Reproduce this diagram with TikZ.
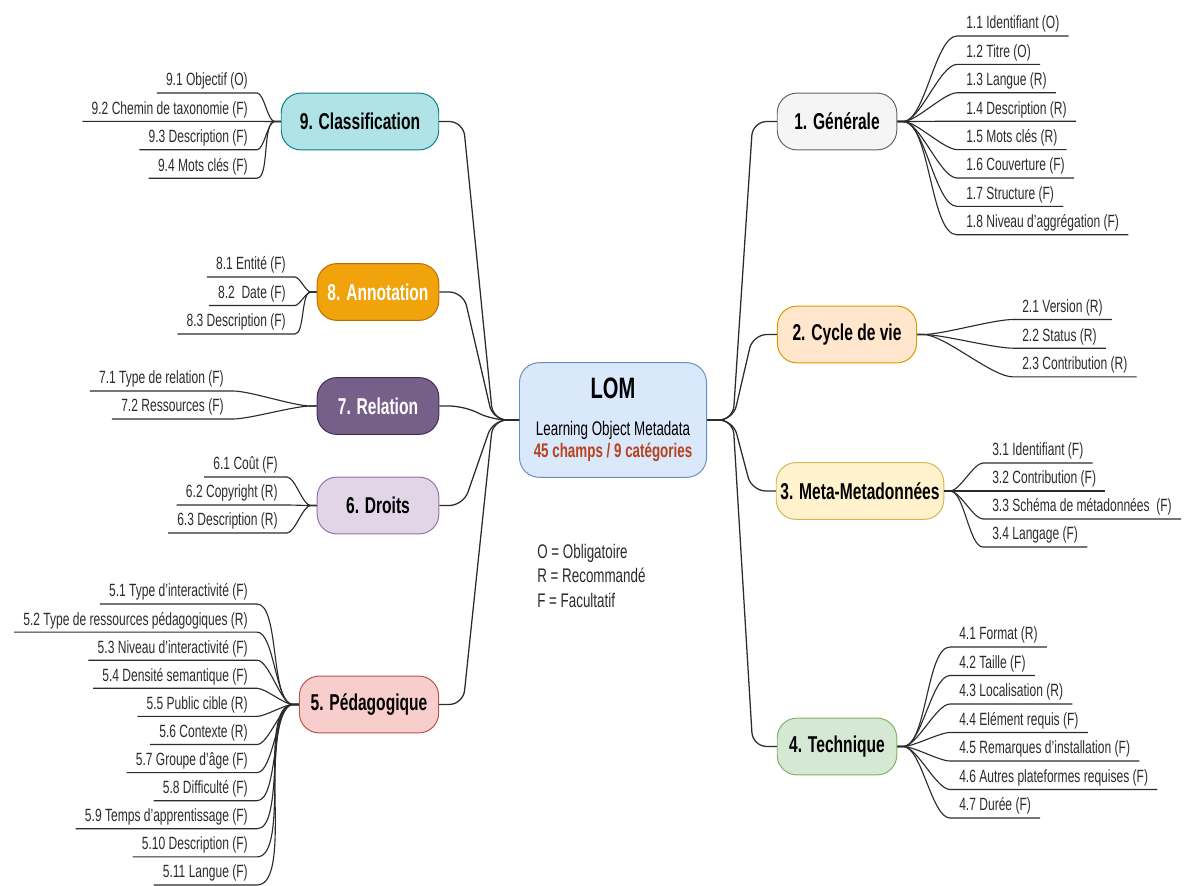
\documentclass[tikz,border=0pt]{standalone}
\usepackage{fontspec}
\setmainfont[FakeStretch=0.68]{Liberation Sans}
\usetikzlibrary{calc}
\definecolor{lomfill}{HTML}{DAE8FC}\definecolor{lomline}{HTML}{6C8EBF}
\definecolor{gfill}{HTML}{F5F5F5}\definecolor{gline}{HTML}{666666}
\definecolor{cfill}{HTML}{FFE6CC}\definecolor{cline}{HTML}{D79B00}
\definecolor{mfill}{HTML}{FFF2CC}\definecolor{mline}{HTML}{D6B656}
\definecolor{tfill}{HTML}{D5E8D4}\definecolor{tline}{HTML}{82B366}
\definecolor{pfill}{HTML}{F8CECC}\definecolor{pline}{HTML}{B85450}
\definecolor{dfill}{HTML}{E1D5E7}\definecolor{dline}{HTML}{9673A6}
\definecolor{rfill}{HTML}{76608A}\definecolor{rline}{HTML}{432D57}
\definecolor{afill}{HTML}{F0A30A}\definecolor{aline}{HTML}{BD7000}
\definecolor{kfill}{HTML}{B0E3E6}\definecolor{kline}{HTML}{0E8088}
\definecolor{champs}{HTML}{B9421D}
\definecolor{ink}{HTML}{2B2B2B}
\begin{document}
\begin{tikzpicture}[x=0.025cm,y=-0.025cm,
  cat/.style={draw, rounded corners=14pt, minimum height=40.4pt, inner xsep=3pt, line width=0.7pt,
    font=\fontsize{16.3}{19}\selectfont\bfseries},
  leafl/.style={anchor=south east, inner xsep=6.4pt, inner ysep=2.2pt, text height=9.4pt, text depth=2.6pt,
    text=ink, font=\fontsize{12.6}{15}\selectfont},
  leafr/.style={leafl, anchor=south west},
  branch/.style={draw=ink, line width=0.9pt, rounded corners=10pt},
  twig/.style={draw=ink, line width=0.8pt, looseness=0.55}]
\useasboundingbox (0,0) rectangle (1184,886);

% centre
\node[draw=lomline, fill=lomfill, line width=0.7pt, rounded corners=14pt, minimum width=133pt, minimum height=81.5pt,
  align=center, font=\fontsize{14}{16}\selectfont] (lom) at (613,420)
  {{\fontsize{21}{24}\selectfont\bfseries LOM}\\[10pt]Learning Object Metadata\\
   {\bfseries\color{champs}45 champs / 9 catégories}};

% categories
\node[cat, fill=kfill, draw=kline, minimum width=112pt] (c9) at (360,121.5) {9. Classification};
\node[cat, fill=afill, draw=aline, text=white, minimum width=86.5pt] (c8) at (378,292) {8. Annotation};
\node[cat, fill=rfill, draw=rline, text=white, minimum width=86.5pt] (c7) at (378,406) {7. Relation};
\node[cat, fill=dfill, draw=dline, minimum width=86.5pt] (c6) at (378,505.5) {6. Droits};
\node[cat, fill=pfill, draw=pline, minimum width=99pt] (c5) at (369,704.5) {5. Pédagogique};
\node[cat, fill=gfill, draw=gline, minimum width=85pt] (c1) at (837,121.5) {1. Générale};
\node[cat, fill=cfill, draw=cline, minimum width=99pt] (c2) at (847,334.5) {2. Cycle de vie};
\node[cat, fill=mfill, draw=mline, minimum width=117.6pt] (c3) at (860,491) {3. Meta-Metadonnées};
\node[cat, fill=tfill, draw=tline, minimum width=85pt] (c4) at (837,746.5) {4. Technique};

\foreach \c in {c9,c8,c7,c6,c5}
  \draw[branch] (lom.west) -- ++(-26,0) -- ($(\c.east)+(24,0)$) -- (\c.east);
\foreach \c in {c1,c2,c3,c4}
  \draw[branch] (lom.east) -- ++(26,0) -- ($(\c.west)+(-24,0)$) -- (\c.west);

% left fields
\foreach \t [count=\k] in {9.1 Objectif (O), 9.2 Chemin de taxonomie (F), 9.3 Description (F), 9.4 Mots clés (F)} {
  \node[leafl] (l9-\k) at (257,64.6+28.4*\k) {\t};
  \draw[twig] (c9.west) -- ++(-6,0) to[out=180,in=0] (l9-\k.south east) -- (l9-\k.south west);
}
\foreach \t [count=\k] in {8.1 Entité (F), 8.2\ \ Date (F), 8.3 Description (F)} {
  \node[leafl] (l8-\k) at (295,248.5+28.5*\k) {\t};
  \draw[twig] (c8.west) -- ++(-6,0) to[out=180,in=0] (l8-\k.south east) -- (l8-\k.south west);
}
\foreach \t [count=\k] in {7.1 Type de relation (F), 7.2 Ressources (F)} {
  \node[leafl] (l7-\k) at (233,363+28*\k) {\t};
  \draw[twig] (c7.west) -- ++(-6,0) to[out=180,in=0] (l7-\k.south east) -- (l7-\k.south west);
}
\foreach \t [count=\k] in {6.1 Coût (F), 6.2 Copyright (R), 6.3 Description (R)} {
  \node[leafl] (l6-\k) at (287,449+28*\k) {\t};
  \draw[twig] (c6.west) -- ++(-6,0) to[out=180,in=0] (l6-\k.south east) -- (l6-\k.south west);
}
\foreach \t [count=\k] in {5.1 Type d'interactivité (F), 5.2 Type de ressources pédagogiques (R),
    5.3 Niveau d'interactivité (F), 5.4 Densité semantique (F), 5.5 Public cible (R), 5.6 Contexte (R),
    5.7 Groupe d'âge (F), 5.8 Difficulté (F), 5.9 Temps d'apprentissage (F), 5.10 Description (F), 5.11 Langue (F)} {
  \node[leafl] (l5-\k) at (257,575.9+28.1*\k) {\t};
  \draw[twig] (c5.west) -- ++(-6,0) to[out=180,in=0] (l5-\k.south east) -- (l5-\k.south west);
}

% right fields
\foreach \t [count=\k] in {1.1 Identifiant (O), 1.2 Titre (O), 1.3 Langue (R), 1.4 Description (R),
    1.5 Mots clés (R), 1.6 Couverture (F), 1.7 Structure (F), 1.8 Niveau d'aggrégation (F)} {
  \node[leafr] (l1-\k) at (957,7.6+28.4*\k) {\t};
  \draw[twig] (c1.east) -- ++(6,0) to[out=0,in=180] (l1-\k.south west) -- (l1-\k.south east);
}
\foreach \t [count=\k] in {2.1 Version (R), 2.2 Status (R), 2.3 Contribution (R)} {
  \node[leafr] (l2-\k) at (1013,290.8+28.7*\k) {\t};
  \draw[twig] (c2.east) -- ++(6,0) to[out=0,in=180] (l2-\k.south west) -- (l2-\k.south east);
}
\foreach \t [count=\k] in {3.1 Identifiant (F), 3.2 Contribution (F), 3.3 Schéma de métadonnées\ \ (F), 3.4 Langage (F)} {
  \node[leafr] (l3-\k) at (983,435+28*\k) {\t};
  \draw[twig] (c3.east) -- ++(6,0) to[out=0,in=180] (l3-\k.south west) -- (l3-\k.south east);
}
\foreach \t [count=\k] in {4.1 Format (R), 4.2 Taille (F), 4.3 Localisation (R), 4.4 Elément requis (F),
    4.5 Remarques d'installation (F), 4.6 Autres plateformes requises (F), 4.7 Durée (F)} {
  \node[leafr] (l4-\k) at (950,618.5+28.5*\k) {\t};
  \draw[twig] (c4.east) -- ++(6,0) to[out=0,in=180] (l4-\k.south west) -- (l4-\k.south east);
}

% legend
\node[anchor=west, align=left, inner sep=0pt, text=ink, font=\fontsize{14}{17.4}\selectfont] (legend) at (537,575.5)
  {O = Obligatoire\\R = Recommandé\\F = Facultatif};
\end{tikzpicture}
\end{document}
